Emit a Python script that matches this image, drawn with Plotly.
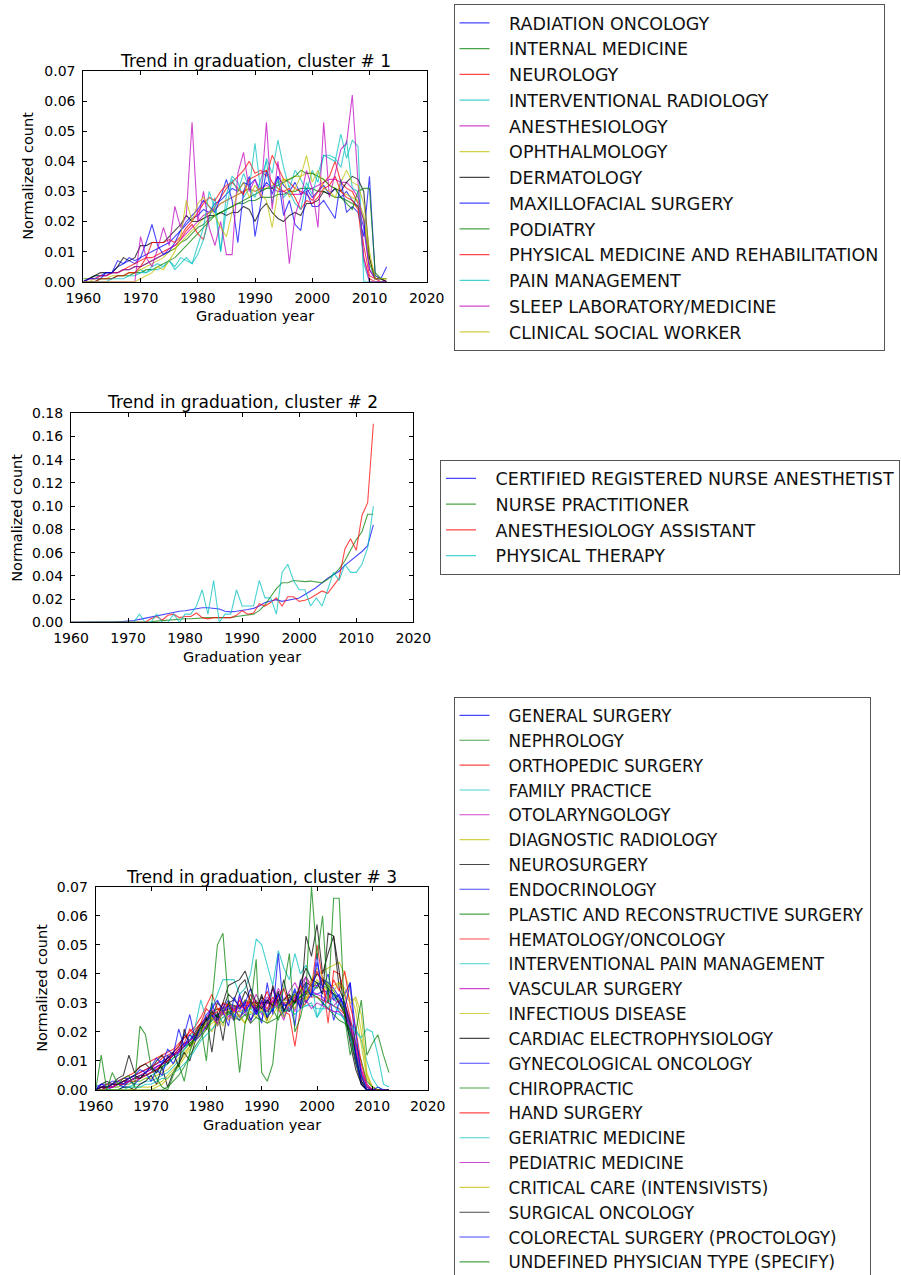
import plotly.graph_objects as go

W, H = 901, 1275
years = list(range(1960, 2014))
x_ticks = [1960, 1970, 1980, 1990, 2000, 2010, 2020]

# ---------------- cluster 1 values (normalized count x 1000), 1960..2013 ----------------
c1_radiation_oncology = [0, 1, 2, 2, 3, 3, 5, 6, 7, 6,
                         8, 9, 10, 11, 12, 13, 15, 17, 19, 21,
                         22, 24, 23, 26, 27, 29, 31, 30, 33, 32,
                         34, 30, 33, 31, 35, 32, 30, 33, 29, 31,
                         28, 30, 32, 29, 31, 28, 30, 27, 25, 18,
                         4, 1, 1, 0]
c1_internal_medicine = [1, 1, 2, 2, 2, 3, 3, 4, 4, 5,
                        5, 6, 7, 8, 9, 10, 11, 13, 14, 16,
                        18, 19, 21, 22, 23, 24, 25, 26, 26, 27,
                        27, 28, 28, 28, 29, 29, 30, 30, 31, 31,
                        31, 30, 30, 29, 28, 28, 27, 26, 25, 21,
                        6, 1, 1, 0]
c1_neurology = [0, 1, 1, 2, 2, 3, 3, 4, 5, 6,
                7, 8, 8, 9, 10, 11, 12, 14, 17, 19,
                16, 14, 22, 25, 28, 31, 33, 35, 37, 40,
                36, 37, 35, 42, 38, 34, 33, 31, 30, 29,
                27, 30, 33, 35, 40, 33, 31, 30, 26, 12,
                2, 1, 0, 0]
c1_interventional_radiology = [0, 0, 0, 1, 1, 1, 2, 2, 3, 3,
                               4, 3, 5, 6, 5, 7, 5, 8, 7, 6,
                               9, 14, 21, 28, 10, 29, 35, 33, 28, 31,
                               46, 30, 41, 36, 47, 38, 31, 37, 34, 30,
                               37, 33, 42, 41, 40, 49, 41, 47, 45, 0,
                               0, 0, 0, 0]
c1_anesthesiology = [0, 1, 1, 2, 2, 3, 3, 4, 4, 5,
                     5, 6, 7, 8, 9, 11, 12, 14, 16, 18,
                     20, 22, 23, 24, 26, 27, 28, 29, 30, 31,
                     30, 31, 32, 31, 30, 30, 29, 29, 29, 30,
                     31, 32, 33, 34, 34, 33, 33, 31, 28, 20,
                     4, 1, 1, 0]
c1_ophthalmology = [0, 0, 1, 1, 1, 2, 2, 2, 3, 3,
                    4, 5, 6, 7, 8, 10, 11, 13, 15, 17,
                    19, 21, 23, 24, 26, 27, 28, 29, 30, 31,
                    30, 31, 31, 32, 33, 34, 34, 35, 35, 36,
                    36, 35, 34, 32, 31, 30, 29, 28, 27, 22,
                    7, 2, 1, 1]
c1_dermatology = [0, 1, 2, 3, 3, 3, 5, 8, 7, 8,
                  12, 12, 13, 13, 13, 15, 17, 19, 22, 20,
                  20, 21, 22, 22, 23, 22, 23, 23, 25, 24,
                  20, 24, 26, 23, 21, 20, 22, 23, 22, 26,
                  26, 27, 30, 29, 31, 30, 33, 35, 34, 30,
                  8, 1, 1, 0]
c1_maxillofacial_surgery = [0, 1, 1, 1, 3, 3, 7, 6, 8, 7,
                            8, 13, 19, 12, 9, 10, 13, 17, 20, 22,
                            24, 27, 25, 23, 28, 34, 27, 13, 30, 35,
                            15, 26, 37, 29, 35, 22, 27, 19, 17, 30,
                            25, 25, 27, 24, 21, 34, 23, 25, 23, 15,
                            35, 2, 1, 5]
c1_podiatry = [0, 0, 0, 1, 1, 1, 2, 2, 2, 3,
               3, 4, 4, 5, 6, 7, 8, 10, 12, 14,
               16, 18, 20, 22, 23, 24, 25, 26, 27, 28,
               29, 30, 31, 31, 32, 33, 34, 35, 37, 36,
               36, 35, 34, 32, 31, 28, 26, 24, 30, 31,
               31, 3, 1, 1]
c1_physical_medicine = [0, 0, 0, 1, 1, 1, 2, 2, 3, 3,
                        5, 8, 13, 13, 13, 14, 13, 15, 18, 20,
                        23, 26, 28, 27, 30, 32, 33, 31, 29, 34,
                        35, 36, 37, 33, 31, 30, 31, 28, 24, 27,
                        26, 28, 31, 32, 35, 30, 28, 27, 24, 8,
                        1, 0, 0, 0]
c1_pain_management = [0, 0, 0, 0, 0, 1, 1, 1, 2, 2,
                      3, 3, 4, 4, 5, 7, 4, 6, 8, 6,
                      12, 18, 30, 24, 10, 24, 34, 30, 36, 31,
                      28, 34, 40, 26, 34, 28, 30, 26, 24, 33,
                      29, 36, 42, 42, 41, 38, 47, 31, 30, 6,
                      0, 0, 0, 0]
c1_sleep_laboratory = [0, 0, 0, 0, 0, 0, 0, 0, 0, 0,
                       15, 8, 5, 11, 18, 12, 25, 18, 22, 53,
                       20, 30, 18, 12, 20, 9, 9, 36, 43, 30,
                       34, 28, 53, 24, 40, 26, 6, 22, 28, 37,
                       31, 18, 53, 28, 36, 44, 46, 62, 33, 8,
                       0, 0, 0, 0]
c1_clinical_social_worker = [0, 0, 0, 0, 0, 0, 0, 0, 0, 0,
                             1, 2, 3, 5, 4, 7, 10, 15, 27, 20,
                             26, 28, 25, 22, 18, 15, 23, 30, 33, 28,
                             32, 29, 27, 18, 30, 34, 28, 31, 35, 42,
                             33, 37, 31, 30, 28, 33, 37, 33, 32, 26,
                             10, 1, 1, 1]

# ---------------- cluster 2 values (x 1000) ----------------
c2_crna = [0, 0, 0, 0, 0, 0, 0.2, 0.4, 0.5, 0.7,
           1, 1.5, 2.5, 3.5, 4.5, 5.5, 6.5, 7.5, 9, 9.5,
           10, 11, 12, 12.5, 12.5, 12, 11.5, 9.5, 9, 9.5,
           10, 11, 12, 14, 17, 18.5, 19.5, 18, 19, 19.5,
           21, 24, 27, 30, 34, 38, 41, 44, 49, 53,
           57, 61, 66, 84]
c2_nurse_practitioner = [0, 0, 0, 0, 0, 0, 0, 0, 0, 0,
                         0, 0, 0, 0, 0.5, 1, 1.5, 2, 2.5, 3,
                         3, 3, 3.5, 3.5, 4, 4, 4, 4, 4, 5,
                         5.5, 6, 7, 10, 15, 22, 29, 34, 34, 36,
                         35.5, 35, 35.5, 34.5, 34, 37, 41, 46, 53, 62,
                         71, 78, 93, 93]
c2_anesthesiology_assistant = [0, 0, 0, 0, 0, 0, 0, 0, 0, 0,
                               0, 0, 0, 0, 3, 5, 2, 6, 7, 4,
                               5, 5, 8, 4, 3, 4, 4, 4, 4, 6,
                               10, 7, 8, 16, 14, 17, 21, 14, 22, 22,
                               18, 19, 21, 24, 27, 25, 31, 38, 63, 72,
                               62, 92, 103, 171]
c2_physical_therapy = [0, 0, 0, 0, 0, 0, 0, 0, 0, 0,
                       0, 0, 7, 0, 0, 7, 0, 0, 7, 0,
                       7, 7, 14, 28, 7, 36, 0, 7, 7, 28,
                       14, 14, 14, 36, 21, 21, 7, 43, 50, 36,
                       28, 28, 14, 21, 14, 28, 43, 36, 50, 43,
                       43, 50, 64, 100]

# ---------------- cluster 3 values (x 1000) ----------------
c3_general_surgery = [1, 2, 2, 3, 3, 4, 4, 5, 6, 7,
                      8, 9, 10, 11, 12, 13, 15, 17, 19, 21,
                      23, 25, 26, 27, 28, 28, 29, 29, 29, 30,
                      30, 30, 30, 31, 31, 31, 32, 32, 33, 33,
                      33, 34, 34, 33, 32, 29, 22, 13, 5, 1,
                      0, 0, 0, 0]
c3_nephrology = [0, 1, 1, 1, 2, 2, 3, 4, 4, 5,
                 6, 7, 8, 9, 11, 12, 14, 16, 18, 20,
                 22, 25, 23, 27, 26, 29, 25, 28, 24, 27,
                 29, 25, 28, 24, 30, 27, 31, 29, 33, 35,
                 37, 36, 35, 33, 30, 27, 20, 12, 5, 1,
                 0, 0, 0, 0]
c3_orthopedic_surgery = [0, 1, 2, 2, 3, 4, 5, 6, 8, 9,
                         10, 11, 12, 13, 14, 16, 18, 19, 21, 23,
                         25, 27, 28, 28, 29, 29, 29, 30, 30, 30,
                         30, 30, 29, 29, 30, 30, 31, 31, 32, 32,
                         32, 31, 30, 29, 28, 26, 20, 11, 4, 1,
                         0, 0, 0, 0]
c3_family_practice = [0, 0, 1, 1, 1, 2, 2, 3, 3, 4,
                      5, 6, 7, 9, 11, 13, 15, 17, 19, 21,
                      22, 24, 25, 26, 27, 27, 27, 26, 26, 27,
                      27, 28, 28, 29, 29, 30, 30, 30, 29, 29,
                      28, 28, 28, 27, 26, 25, 23, 21, 17, 10,
                      4, 1, 0, 0]
c3_otolaryngology = [0, 1, 1, 2, 2, 3, 3, 4, 5, 6,
                     7, 8, 9, 10, 12, 13, 15, 17, 19, 21,
                     23, 26, 24, 28, 25, 29, 27, 31, 28, 33,
                     29, 32, 30, 35, 31, 34, 37, 33, 39, 36,
                     36, 35, 33, 31, 30, 28, 22, 14, 5, 1,
                     0, 0, 0, 0]
c3_diagnostic_radiology = [0, 0, 1, 1, 1, 2, 2, 3, 3, 4,
                           4, 5, 6, 7, 9, 11, 13, 15, 17, 19,
                           21, 23, 24, 25, 26, 27, 27, 28, 28, 29,
                           29, 30, 30, 31, 31, 32, 33, 34, 36, 38,
                           40, 41, 42, 43, 44, 40, 34, 27, 15, 4,
                           1, 0, 0, 0]
c3_neurosurgery = [0, 2, 3, 2, 4, 5, 12, 6, 8, 9,
                   7, 10, 12, 9, 13, 15, 19, 17, 20, 23,
                   21, 25, 30, 28, 33, 31, 29, 34, 31, 28,
                   32, 30, 35, 29, 31, 33, 30, 34, 37, 36,
                   40, 38, 35, 33, 30, 26, 18, 9, 2, 0,
                   0, 0, 0, 0]
c3_endocrinology = [0, 1, 1, 1, 2, 2, 3, 4, 5, 5,
                    6, 8, 9, 10, 12, 14, 16, 17, 19, 21,
                    23, 26, 22, 28, 31, 26, 24, 30, 35, 27,
                    24, 31, 27, 33, 25, 29, 34, 30, 37, 33,
                    36, 38, 37, 35, 32, 28, 20, 10, 3, 1,
                    0, 0, 0, 0]
c3_plastic_surgery = [0, 1, 1, 2, 2, 3, 3, 4, 5, 5,
                      6, 7, 8, 10, 12, 13, 15, 16, 18, 21,
                      24, 26, 28, 27, 30, 29, 28, 31, 30, 29,
                      28, 27, 29, 30, 28, 27, 30, 32, 34, 36,
                      35, 38, 36, 34, 31, 27, 19, 10, 3, 1,
                      0, 0, 0, 0]
c3_hematology_oncology = [0, 1, 1, 2, 2, 3, 4, 5, 6, 7,
                          8, 9, 11, 12, 13, 15, 18, 20, 22, 25,
                          29, 33, 28, 26, 30, 27, 29, 28, 31, 27,
                          30, 28, 32, 29, 27, 26, 15, 28, 30, 35,
                          50, 38, 23, 41, 40, 33, 25, 15, 6, 1,
                          0, 0, 0, 0]
c3_interventional_pain = [0, 0, 0, 0, 0, 1, 1, 2, 2, 3,
                          3, 4, 5, 6, 8, 10, 14, 17, 22, 31,
                          24, 28, 33, 38, 38, 38, 33, 35, 40, 52,
                          50, 43, 36, 48, 42, 38, 47, 40, 43, 38,
                          25, 30, 28, 33, 27, 24, 18, 12, 5, 1,
                          0, 0, 0, 0]
c3_vascular_surgery = [0, 0, 1, 1, 2, 2, 3, 4, 4, 5,
                       6, 7, 9, 11, 12, 14, 16, 17, 19, 22,
                       25, 28, 22, 30, 26, 24, 32, 27, 23, 31,
                       26, 30, 35, 28, 24, 31, 27, 36, 39, 34,
                       33, 32, 30, 29, 31, 30, 24, 17, 7, 1,
                       0, 0, 0, 0]
c3_infectious_disease = [0, 0, 0, 0, 0, 0, 0, 1, 1, 1,
                         1, 2, 3, 5, 7, 9, 12, 15, 18, 21,
                         23, 20, 25, 22, 28, 24, 26, 23, 27, 25,
                         28, 23, 26, 29, 25, 31, 28, 33, 30, 35,
                         38, 36, 34, 36, 37, 35, 31, 31, 20, 5,
                         1, 0, 0, 0]
c3_cardiac_electrophysiology = [0, 0, 0, 0, 0, 1, 1, 0, 2, 3,
                                5, 2, 8, 1, 6, 9, 13, 10, 17, 20,
                                25, 13, 27, 17, 30, 31, 36, 38, 30, 27,
                                33, 24, 36, 30, 38, 29, 33, 28, 53, 46,
                                57, 40, 47, 53, 35, 30, 23, 12, 3, 0,
                                0, 0, 0, 0]
c3_gynecological_oncology = [0, 1, 0, 1, 2, 1, 3, 2, 4, 6,
                             3, 7, 5, 12, 9, 13, 19, 26, 17, 19,
                             22, 30, 24, 27, 22, 32, 28, 30, 24, 28,
                             23, 37, 26, 47, 27, 31, 22, 38, 30, 33,
                             47, 29, 35, 24, 30, 33, 37, 12, 2, 0,
                             0, 0, 0, 0]
c3_chiropractic = [0, 0, 0, 0, 0, 0, 0, 0, 0, 0,
                   0, 0, 0, 1, 3, 5, 8, 12, 15, 18,
                   21, 24, 26, 23, 27, 25, 24, 26, 23, 25,
                   24, 23, 24, 25, 27, 28, 30, 32, 34, 33,
                   32, 30, 28, 26, 24, 23, 20, 16, 10, 3,
                   1, 0, 0, 0]
c3_hand_surgery = [0, 0, 1, 1, 2, 2, 3, 3, 4, 5,
                   6, 7, 9, 10, 12, 14, 16, 21, 19, 23,
                   28, 26, 27, 30, 29, 27, 31, 28, 33, 29,
                   30, 34, 28, 32, 35, 29, 31, 36, 33, 37,
                   41, 36, 30, 38, 34, 41, 29, 21, 9, 2,
                   0, 0, 0, 0]
c3_geriatric_medicine = [0, 0, 0, 0, 0, 0, 1, 1, 1, 2,
                         2, 3, 4, 4, 6, 7, 9, 11, 14, 17,
                         19, 21, 23, 25, 26, 26, 25, 27, 28, 26,
                         27, 26, 28, 29, 27, 28, 26, 28, 29, 30,
                         25, 28, 31, 29, 27, 24, 22, 20, 18, 21,
                         20, 12, 2, 1]
c3_pediatric_medicine = [0, 1, 1, 1, 2, 3, 3, 4, 5, 6,
                         7, 8, 9, 11, 12, 13, 15, 17, 18, 20,
                         22, 25, 23, 27, 24, 28, 25, 27, 30, 26,
                         29, 27, 31, 28, 30, 27, 32, 29, 31, 28,
                         30, 29, 28, 27, 27, 25, 22, 15, 7, 2,
                         0, 0, 0, 0]
c3_critical_care = [0, 0, 0, 0, 0, 0, 0, 0, 0, 0,
                    0, 1, 2, 4, 6, 8, 11, 14, 17, 20,
                    23, 25, 22, 28, 24, 27, 25, 23, 29, 30,
                    28, 24, 30, 27, 31, 29, 33, 35, 31, 38,
                    42, 39, 36, 34, 37, 33, 30, 32, 26, 6,
                    1, 0, 0, 0]
c3_surgical_oncology = [0, 1, 1, 2, 2, 3, 4, 5, 4, 6,
                        8, 6, 9, 11, 13, 8, 21, 15, 18, 22,
                        24, 27, 25, 30, 36, 37, 38, 41, 35, 30,
                        28, 31, 29, 34, 27, 32, 30, 37, 42, 38,
                        37, 33, 54, 53, 41, 27, 16, 7, 2, 0,
                        0, 0, 0, 0]
c3_colorectal_surgery = [0, 2, 1, 2, 3, 2, 4, 5, 7, 6,
                         8, 11, 9, 14, 12, 21, 15, 19, 17, 22,
                         26, 28, 31, 27, 29, 24, 33, 27, 30, 26,
                         31, 25, 28, 33, 29, 30, 35, 28, 36, 32,
                         44, 35, 40, 31, 33, 28, 37, 20, 5, 0,
                         0, 1, 0, 0]
c3_undefined_physician = [0, 12, 0, 6, 2, 4, 5, 1, 22, 19,
                          8, 4, 1, 0, 5, 9, 3, 13, 19, 22,
                          10, 30, 50, 54, 30, 25, 6, 23, 29, 45,
                          6, 3, 9, 28, 35, 47, 20, 25, 34, 70,
                          45, 60, 30, 66, 66, 25, 12, 20, 31, 12,
                          16, 19, 12, 6]

cluster1_names = ["RADIATION ONCOLOGY", "INTERNAL MEDICINE", "NEUROLOGY",
                  "INTERVENTIONAL RADIOLOGY", "ANESTHESIOLOGY", "OPHTHALMOLOGY",
                  "DERMATOLOGY", "MAXILLOFACIAL SURGERY", "PODIATRY",
                  "PHYSICAL MEDICINE AND REHABILITATION", "PAIN MANAGEMENT",
                  "SLEEP LABORATORY/MEDICINE", "CLINICAL SOCIAL WORKER"]
cluster1_series = [c1_radiation_oncology, c1_internal_medicine, c1_neurology,
                   c1_interventional_radiology, c1_anesthesiology, c1_ophthalmology,
                   c1_dermatology, c1_maxillofacial_surgery, c1_podiatry,
                   c1_physical_medicine, c1_pain_management, c1_sleep_laboratory,
                   c1_clinical_social_worker]

cluster2_names = ["CERTIFIED REGISTERED NURSE ANESTHETIST", "NURSE PRACTITIONER",
                  "ANESTHESIOLOGY ASSISTANT", "PHYSICAL THERAPY"]
cluster2_series = [c2_crna, c2_nurse_practitioner, c2_anesthesiology_assistant,
                   c2_physical_therapy]

cluster3_names = ["GENERAL SURGERY", "NEPHROLOGY", "ORTHOPEDIC SURGERY", "FAMILY PRACTICE",
                  "OTOLARYNGOLOGY", "DIAGNOSTIC RADIOLOGY", "NEUROSURGERY", "ENDOCRINOLOGY",
                  "PLASTIC AND RECONSTRUCTIVE SURGERY", "HEMATOLOGY/ONCOLOGY",
                  "INTERVENTIONAL PAIN MANAGEMENT", "VASCULAR SURGERY", "INFECTIOUS DISEASE",
                  "CARDIAC ELECTROPHYSIOLOGY", "GYNECOLOGICAL ONCOLOGY", "CHIROPRACTIC",
                  "HAND SURGERY", "GERIATRIC MEDICINE", "PEDIATRIC MEDICINE",
                  "CRITICAL CARE (INTENSIVISTS)", "SURGICAL ONCOLOGY",
                  "COLORECTAL SURGERY (PROCTOLOGY)", "UNDEFINED PHYSICIAN TYPE (SPECIFY)"]
cluster3_series = [c3_general_surgery, c3_nephrology, c3_orthopedic_surgery, c3_family_practice,
                   c3_otolaryngology, c3_diagnostic_radiology, c3_neurosurgery, c3_endocrinology,
                   c3_plastic_surgery, c3_hematology_oncology, c3_interventional_pain,
                   c3_vascular_surgery, c3_infectious_disease, c3_cardiac_electrophysiology,
                   c3_gynecological_oncology, c3_chiropractic, c3_hand_surgery,
                   c3_geriatric_medicine, c3_pediatric_medicine, c3_critical_care,
                   c3_surgical_oncology, c3_colorectal_surgery, c3_undefined_physician]

# matplotlib classic colour cycle b, g, r, c, m, y, k (drawn semi-transparent)
color_cycle = ["rgba(0,0,255,0.72)", "rgba(0,128,0,0.72)", "rgba(255,0,0,0.72)",
               "rgba(0,191,191,0.72)", "rgba(191,0,191,0.72)", "rgba(191,191,0,0.72)",
               "rgba(0,0,0,0.72)"]

FONT = "DejaVu Sans"
PAD = "\u00a0\u00a0\u2009"  # gap between legend line sample and label text
fig = go.Figure()


def px_x(px):
    return px / W


def px_y(py):
    return 1 - py / H


panels = [
    (cluster1_names, cluster1_series, "", "legend"),
    (cluster2_names, cluster2_series, "2", "legend2"),
    (cluster3_names, cluster3_series, "3", "legend3"),
]
for names, series, ax, leg in panels:
    for i, (nm, vals) in enumerate(zip(names, series)):
        fig.add_trace(go.Scatter(
            x=years, y=[v / 1000 for v in vals], mode="lines", name=PAD + nm,
            line=dict(color=color_cycle[i % 7], width=1.1),
            xaxis="x" + ax, yaxis="y" + ax, legend=leg))

# axes geometry in pixels: (left, right, top, bottom)
geom = {
    "": (83.3, 426.7, 71.0, 281.7),
    "2": (71.0, 413.3, 413.3, 622.3),
    "3": (95.7, 427.7, 886.7, 1090.0),
}
yranges = {"": (0.07, 0.01), "2": (0.18, 0.02), "3": (0.07, 0.01)}

layout = dict(
    width=W, height=H, margin=dict(l=0, r=0, t=0, b=0, pad=0, autoexpand=False),
    paper_bgcolor="white", plot_bgcolor="white",
    font=dict(family=FONT, size=14, color="black"),
    showlegend=True,
)
annotations = []
for ax, (l, r, t, b) in geom.items():
    ymax, dt = yranges[ax]
    common = dict(showline=True, linecolor="black", linewidth=1, mirror="allticks",
                  ticks="inside", ticklen=4, tickwidth=1, tickcolor="black",
                  showgrid=False, zeroline=False,
                  tickfont=dict(family=FONT, size=14, color="black"))
    layout["xaxis" + ax] = dict(common, domain=[px_x(l), px_x(r)], range=[1960, 2020],
                                tickvals=x_ticks, anchor="y" + ax, ticklabelstandoff=3)
    layout["yaxis" + ax] = dict(common, domain=[px_y(b), px_y(t)], range=[0, ymax],
                                dtick=dt, tick0=0, tickformat=".2f", anchor="x" + ax,
                                ticklabelstandoff=4)

titles = {"": ("Trend in graduation, cluster # 1", 61.0, 28.5),
          "2": ("Trend in graduation, cluster # 2", 401.7, 17.0),
          "3": ("Trend in graduation, cluster # 3", 876.7, 42.5)}
for ax, (txt, ty, ylab_x) in titles.items():
    l, r, t, b = geom[ax]
    annotations.append(dict(text=txt, x=px_x((l + r) / 2), y=px_y(ty), xref="paper", yref="paper",
                            xanchor="center", yanchor="middle", showarrow=False,
                            font=dict(family=FONT, size=17, color="black")))
    annotations.append(dict(text="Graduation year", x=px_x((l + r) / 2), y=px_y(b + 34.5),
                            xref="paper", yref="paper", xanchor="center", yanchor="middle",
                            showarrow=False, font=dict(family=FONT, size=14.5, color="black")))
    annotations.append(dict(text="Normalized count", x=px_x(ylab_x), y=px_y((t + b) / 2),
                            xref="paper", yref="paper", xanchor="center", yanchor="middle",
                            textangle=-90, showarrow=False,
                            font=dict(family=FONT, size=14.5, color="black")))
layout["annotations"] = annotations

legend_pos = {"legend": (453.5, 4.0, 17.5), "legend2": (440.0, 459.5, 17.5),
              "legend3": (453.5, 697.0, 16.8)}
for leg, (lx, ly, fs) in legend_pos.items():
    layout[leg] = dict(x=px_x(lx), y=px_y(ly), xanchor="left", yanchor="top",
                       xref="paper", yref="paper",
                       bordercolor="#555555", borderwidth=1, bgcolor="white",
                       font=dict(family=FONT, size=fs, color="#111111"),
                       itemwidth=30, tracegroupgap=0)

fig.update_layout(**layout)
fig.write_html("out.html")
